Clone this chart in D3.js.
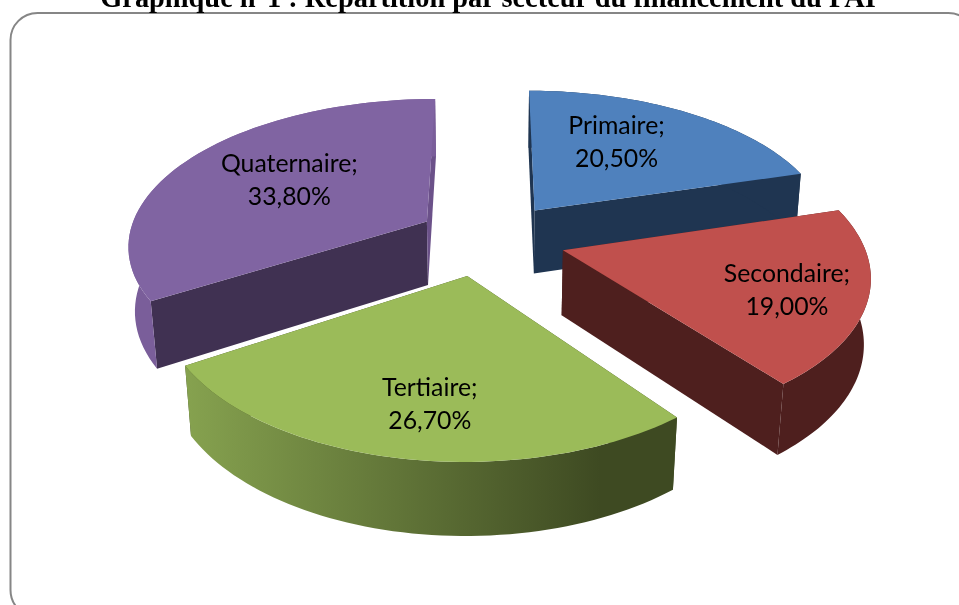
<!DOCTYPE html>
<html>
<head>
<meta charset="utf-8">
<style>
  html, body { margin: 0; padding: 0; background: #fff; overflow: hidden; }
  svg { display: block; filter: blur(0.4px); }
</style>
<script src="https://d3js.org/d3.v7.min.js"></script>
</head>
<body>
<div id="chart"></div>
<script>
const titleText = 'Graphique n°1 : Répartition par secteur du financement du PAI';
const sectors = ['Primaire', 'Secondaire', 'Tertiaire', 'Quaternaire'];
const shares = [20.5, 19.0, 26.7, 33.8];
const topColors = ['#4f81bd', '#c0504d', '#9bbb59', '#8064a2'];
const wallColors = ['#1f3551', '#4e1f1e', '#3e4a22', '#403152'];
const rimColors = ['#1f3551', '#4e1f1e', 'url(#tertiaireRim)', '#7a5e9a'];

const width = 959, height = 605;

// Perspective of the pie plane, fitted by hand to the picture
const cx = 491, cy = 238.8;
const scaleU = 299, scaleV = 145.6, depth = 65.6;
const tiltK = 0.15, depthK = 0.018;
const explode = 0.25;

function project(u, v, z) {
  const q = 1 + tiltK * v + depthK * z;
  return [cx + scaleU * u / q, cy + (depth * z - scaleV * v) / q];
}

const svg = d3.select('#chart').append('svg')
  .attr('width', width)
  .attr('height', height)
  .attr('viewBox', [0, 0, width, height]);

const grad = svg.append('defs').append('linearGradient')
  .attr('id', 'tertiaireRim')
  .attr('gradientUnits', 'userSpaceOnUse')
  .attr('x1', 185).attr('x2', 600).attr('y1', 0).attr('y2', 0);
grad.append('stop').attr('offset', 0).attr('stop-color', '#86a24f');
grad.append('stop').attr('offset', 1).attr('stop-color', '#3e4a22');

svg.append('rect')
  .attr('x', 10.5).attr('y', 13)
  .attr('width', 965).attr('height', 604)
  .attr('rx', 27)
  .attr('fill', '#fff')
  .attr('stroke', '#868686')
  .attr('stroke-width', 2);

svg.append('text')
  .attr('x', 488).attr('y', 6.5)
  .attr('text-anchor', 'middle')
  .attr('font-family', '"Liberation Serif", serif')
  .attr('font-weight', 700)
  .attr('font-size', 28.4)
  .attr('fill', '#000')
  .text(titleText);

const pie = d3.pie().sort(null).value(d => d);
const slices = pie(shares).map((d, i) => ({
  index: i,
  name: sectors[i],
  value: d.value,
  a0: d.startAngle,
  a1: d.endAngle,
  mid: (d.startAngle + d.endAngle) / 2
}));

// Tertiaire is a little narrower and further left than the shared fit gives
const sliceShift = [0, 0, -10, 0];
const sliceWidth = [1, 1, 0.976, 1];
const labelNudge = [[2, -17], [75, 16], [-7, 44], [-16, -8]];

const line = d3.line();

function polar(s, r, a, z) {
  const u = explode * Math.sin(s.mid) + r * Math.sin(a) * sliceWidth[s.index];
  const v = explode * Math.cos(s.mid) + r * Math.cos(a);
  const p = project(u, v, z);
  return [p[0] + sliceShift[s.index], p[1]];
}

function arcPoints(s, z) {
  return d3.range(0, 61).map(k => polar(s, 1, s.a0 + (s.a1 - s.a0) * k / 60, z));
}

// Back slices first, so the nearer ones cover them
const order = [0, 3, 1, 2];

order.forEach(i => {
  const s = slices[i];
  const g = svg.append('g').attr('class', 'slice');
  const apexTop = polar(s, 0, 0, 0), apexBot = polar(s, 0, 0, 1);
  const arcTop = arcPoints(s, 0), arcBot = arcPoints(s, 1);

  // the two cut faces
  const startWall = [apexTop, arcTop[0], arcBot[0], apexBot];
  const endWall = [apexTop, arcTop[60], arcBot[60], apexBot];
  g.append('path').attr('d', line(startWall) + 'Z')
    .attr('fill', wallColors[i]);
  g.append('path').attr('d', line(endWall) + 'Z')
    .attr('fill', i === 3 ? '#6b5189' : wallColors[i]);

  // outer rim
  g.append('path')
    .attr('d', line(arcTop.concat(arcBot.slice().reverse())) + 'Z')
    .attr('fill', rimColors[i]);

  // top face
  g.append('path')
    .attr('d', line([apexTop].concat(arcTop)) + 'Z')
    .attr('fill', topColors[i]);

  const c = polar(s, 0.5, s.mid, 0);
  const label = g.append('text')
    .attr('text-anchor', 'middle')
    .attr('font-family', 'Lato, "Open Sans", sans-serif')
    .attr('font-size', 24.8)
    .attr('fill', '#000');
  label.append('tspan')
    .attr('x', c[0] + labelNudge[i][0])
    .attr('y', c[1] + labelNudge[i][1] - 8)
    .text(s.name + ';');
  label.append('tspan')
    .attr('x', c[0] + labelNudge[i][0])
    .attr('y', c[1] + labelNudge[i][1] + 25)
    .text(s.value.toFixed(2).replace('.', ',') + '%');
});
</script>
</body>
</html>
